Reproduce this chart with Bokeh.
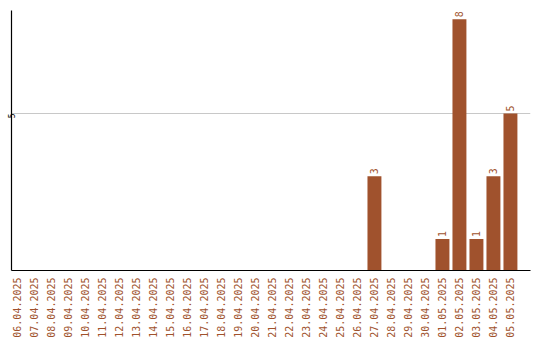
from math import pi

from bokeh.core.properties import value
from bokeh.embed import file_html
from bokeh.models import ColumnDataSource, FixedTicker, Range1d
from bokeh.plotting import figure
from bokeh.resources import INLINE

# Daily counts, 06.04.2025 - 05.05.2025
dates = [
    "06.04.2025", "07.04.2025", "08.04.2025", "09.04.2025", "10.04.2025",
    "11.04.2025", "12.04.2025", "13.04.2025", "14.04.2025", "15.04.2025",
    "16.04.2025", "17.04.2025", "18.04.2025", "19.04.2025", "20.04.2025",
    "21.04.2025", "22.04.2025", "23.04.2025", "24.04.2025", "25.04.2025",
    "26.04.2025", "27.04.2025", "28.04.2025", "29.04.2025", "30.04.2025",
    "01.05.2025", "02.05.2025", "03.05.2025", "04.05.2025", "05.05.2025",
]
counts = [0, 0, 0, 0, 0, 0, 0, 0, 0, 0,
          0, 0, 0, 0, 0, 0, 0, 0, 0, 0,
          0, 3, 0, 0, 0, 1, 8, 1, 3, 5]
y_ticks = [5]

BAR = "#a0522d"
FONT = "DejaVu Sans Mono"

xs = list(range(len(dates)))
src = ColumnDataSource(dict(x=xs, y=counts))
lab = ColumnDataSource(dict(
    x=[x for x, c in zip(xs, counts) if c > 0],
    y=[c for c in counts if c > 0],
    t=[str(c) for c in counts if c > 0],
))

p = figure(
    width=540, height=340,
    x_range=Range1d(-0.35, 30.18),
    y_range=Range1d(0, 8.28),
    output_backend="svg", toolbar_location=None,
    min_border_left=11, min_border_right=10,
    min_border_top=10, min_border_bottom=0,
)
p.outline_line_color = None
p.background_fill_color = "white"
p.border_fill_color = "white"

p.vbar(x="x", top="y", width=0.82, source=src, fill_color=BAR, line_color=None)
p.text(x="x", y="y", text="t", source=lab, angle=pi / 2, y_offset=-2,
       text_align="left", text_baseline="middle",
       text_font=value(FONT), text_font_size="10px", text_color=BAR)

# x axis: one vertical date label per bar
p.xaxis.ticker = FixedTicker(ticks=xs)
p.xaxis.major_label_overrides = {i: d for i, d in enumerate(dates)}
p.xaxis.major_label_orientation = pi / 2
p.xaxis.major_label_text_font = FONT
p.xaxis.major_label_text_font_size = "10px"
p.xaxis.major_label_text_color = BAR
p.xaxis.major_label_standoff = 7
p.xaxis.major_tick_out = 0
p.xaxis.major_tick_in = 0
p.xaxis.minor_tick_line_color = None
p.xaxis.axis_line_color = "black"
p.xaxis.axis_line_width = 1.2
p.xgrid.grid_line_color = None

# y axis: single tick with a grid line
p.yaxis.ticker = FixedTicker(ticks=y_ticks)
p.yaxis.major_label_orientation = pi / 2
p.yaxis.major_label_text_font = FONT
p.yaxis.major_label_text_font_size = "8px"
p.yaxis.major_label_text_color = "black"
p.yaxis.major_label_text_align = "center"
p.yaxis.major_label_text_baseline = "bottom"
p.yaxis.major_label_standoff = 0
p.yaxis.major_tick_out = 0
p.yaxis.major_tick_in = 0
p.yaxis.minor_tick_line_color = None
p.yaxis.axis_line_color = "black"
p.yaxis.axis_line_width = 1.2
p.ygrid.grid_line_color = "#c8c8c8"
p.ygrid.ticker = FixedTicker(ticks=y_ticks)

open("out.html", "w").write(file_html(p, INLINE))
